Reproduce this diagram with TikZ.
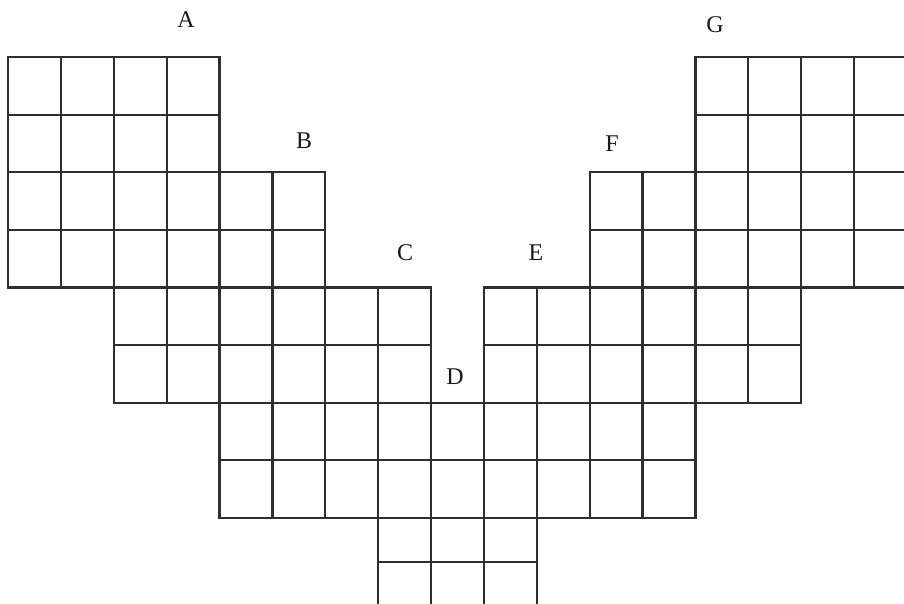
\documentclass[tikz,border=0pt]{standalone}
\usepackage{fontspec}
\setmainfont{Liberation Serif}
\begin{document}
\begin{tikzpicture}[x=1pt,y=-1pt,
  cellline/.style={line width=2.2pt, draw=black!82},
  lbl/.style={inner sep=0pt, font=\fontsize{24}{24}\selectfont, text=black!90}]
\useasboundingbox (0,0) rectangle (904,603);
\clip (0,0) rectangle (904,603);
\def\rowy{{57,114.6,172.2,229.8,287.4,345,402.6,460.2,517.8,562,625}}
% column / first row / last row (cells)
\foreach \c/\ra/\rb in {0/0/3,1/0/3,2/0/5,3/0/5,4/2/7,5/2/7,6/4/7,7/4/9,8/6/9,9/4/9,10/4/7,11/2/7,12/2/7,13/0/5,14/0/5,15/0/3,16/0/3}{
  \foreach \r in {\ra,...,\rb}{
    \pgfmathsetmacro\xa{8+52.88*\c}
    \pgfmathsetmacro\xb{8+52.88*(\c+1)}
    \pgfmathsetmacro\ya{\rowy[\r]}
    \pgfmathsetmacro\yb{\rowy[\r+1]}
    \draw[cellline] (\xa,\ya) rectangle (\xb,\yb);
  }
}
\node[lbl] (A) at (186,20) {A};
\node[lbl] (B) at (304,141) {B};
\node[lbl] (C) at (405,253) {C};
\node[lbl] (D) at (455,377) {D};
\node[lbl] (E) at (536,253) {E};
\node[lbl] (F) at (612,144) {F};
\node[lbl] (G) at (715,25) {G};
\end{tikzpicture}
\end{document}
